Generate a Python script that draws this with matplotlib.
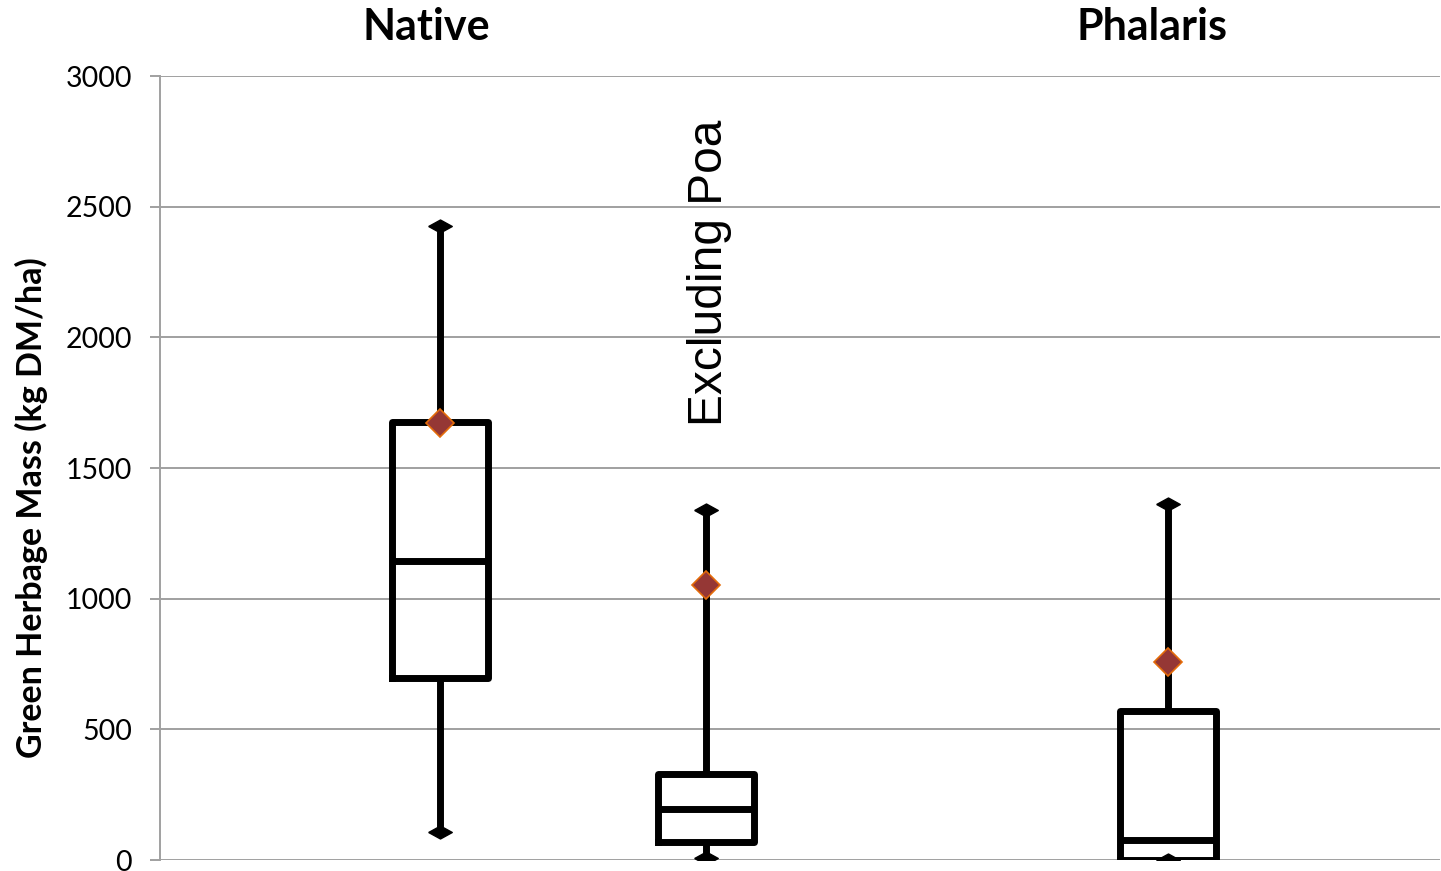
import matplotlib
matplotlib.use("Agg")
import matplotlib.pyplot as plt

groups = ["Native", "Excluding Poa", "Phalaris"]
positions = [1.05, 2.05, 3.78]
whislo = [107, 8, 0]
q1 = [696, 69, 0]
med = [1144, 195, 77]
q3 = [1676, 329, 570]
whishi = [2426, 1339, 1362]
means = [1672, 1052, 758]

top_labels = ["Native", "Phalaris"]
top_label_x = [1.0, 3.72]

yticks = [0, 500, 1000, 1500, 2000, 2500, 3000]

stats = []
for i in range(len(groups)):
    stats.append(dict(label=groups[i], whislo=whislo[i], q1=q1[i], med=med[i],
                      q3=q3[i], whishi=whishi[i], mean=means[i], fliers=[]))

fig = plt.figure(figsize=(14.41, 8.71), dpi=100)
ax = fig.add_axes([0.111, 0.0126, 0.888, 0.9001])

grid_col = "#a0a0a0"
ax.set_xlim(0, 4.8)
ax.set_ylim(0, 3000)
ax.set_yticks(yticks)
ax.yaxis.grid(True, color=grid_col, linewidth=1.4, zorder=0)
ax.set_axisbelow(True)

ax.bxp(stats, positions=positions, widths=0.36, showcaps=False, showmeans=True,
       showfliers=False, patch_artist=False, manage_ticks=False,
       boxprops=dict(color="black", linewidth=5, solid_joinstyle="round"),
       whiskerprops=dict(color="black", linewidth=5, solid_capstyle="butt"),
       medianprops=dict(color="black", linewidth=5),
       meanprops=dict(marker="D", markersize=14, markerfacecolor="#953735",
                      markeredgecolor="#e46c0a", markeredgewidth=1.2, zorder=5))

# diamond ends on the whiskers, kept under the box outline
cap_marker = [(-1, 0), (0, 0.55), (1, 0), (0, -0.55), (-1, 0)]
ax.plot(positions, whislo, linestyle="none", marker=cap_marker, markersize=17,
        color="black", zorder=1.5)
ax.plot(positions, whishi, linestyle="none", marker=cap_marker, markersize=17,
        color="black", zorder=1.5)

for s in ["top", "right", "bottom"]:
    ax.spines[s].set_visible(False)
ax.spines["left"].set_color(grid_col)
ax.spines["left"].set_linewidth(1.4)
ax.tick_params(axis="y", colors=grid_col, length=7, width=1.4, labelsize=20.5,
               labelcolor="black", pad=13)
ax.set_xticks([])
for lab in ax.get_yticklabels():
    lab.set_fontfamily("Lato")

ax.set_ylabel("Green Herbage Mass (kg DM/ha)", fontsize=24.5, fontweight="bold",
              family="Lato")
ax.yaxis.label.set_va("center")
ax.yaxis.set_label_coords(-0.1008, 0.45)

for x, t in zip(top_label_x, top_labels):
    ax.text(x, 3136, t, ha="center", va="baseline", fontsize=31,
            fontweight="bold", family="Lato", clip_on=False)

ax.text(2.06, 2246, "Excluding Poa", rotation=90, ha="center", va="center",
        fontsize=34.5, family="Liberation Sans")

fig.savefig("out.png", dpi=100)
